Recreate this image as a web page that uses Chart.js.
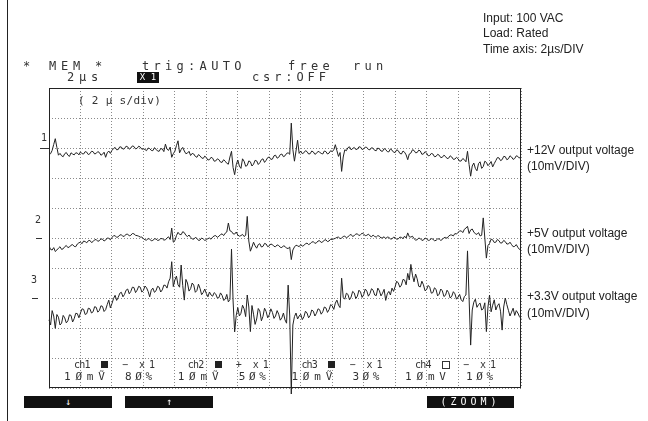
<!DOCTYPE html>
<html><head><meta charset="utf-8">
<script src="https://cdn.jsdelivr.net/npm/chart.js@4.4.1/dist/chart.umd.min.js"></script>
<style>
html,body{margin:0;padding:0;background:#fff;}
#wrap{position:relative;width:648px;height:421px;overflow:hidden;background:#fff;}
canvas{position:absolute;left:0;top:0;}
.t{position:absolute;white-space:pre;line-height:1;}
.s{font-family:"DejaVu Sans Mono",monospace;color:#333;}
.a{font-family:"Liberation Sans",Arial,sans-serif;font-size:12px;color:#222;}
.btn{position:absolute;background:#111;color:#fff;top:396px;height:12px;font-family:"DejaVu Sans Mono",monospace;font-size:10px;line-height:12px;text-align:center;}
.sq{position:absolute;width:7px;height:7px;background:#222;}
.sqo{position:absolute;width:6px;height:6px;border:1px solid #333;}
.vline{position:absolute;left:7px;top:0;width:1px;height:421px;background:#222;}
.mk{position:absolute;height:1px;background:#333;}
</style></head>
<body><div id="wrap">
<canvas id="c" width="648" height="421"></canvas>
<div class="vline"></div>

<div class="t a" style="left:483px;top:12px">Input: 100 VAC</div>
<div class="t a" style="left:483px;top:27px">Load: Rated</div>
<div class="t a" style="left:483px;top:43px">Time axis: 2µs/DIV</div>

<div class="t s" style="left:23px;top:60px;font-size:12px">*</div>
<div class="t s" style="left:49px;top:60px;font-size:12px;letter-spacing:4.8px">MEM</div>
<div class="t s" style="left:95px;top:60px;font-size:12px">*</div>
<div class="t s" style="left:142px;top:60px;font-size:12px;letter-spacing:4.3px">trig:AUTO</div>
<div class="t s" style="left:288px;top:60px;font-size:12px;letter-spacing:4.3px">free</div>
<div class="t s" style="left:353px;top:60px;font-size:12px;letter-spacing:4.3px">run</div>
<div class="t s" style="left:67px;top:71px;font-size:12px;letter-spacing:4.8px">2µs</div>
<div class="t s" style="left:137px;top:72px;width:22px;height:11px;background:#111;color:#fff;font-size:9px;line-height:11px;text-align:center">X 1</div>
<div class="t s" style="left:252px;top:71px;font-size:12px;letter-spacing:3.9px">csr:OFF</div>

<div class="t s" style="left:78px;top:95px;font-size:11px;letter-spacing:0.3px">( 2 µ s/div)</div>

<div class="t s" style="left:41px;top:133px;font-size:10px">1</div>
<div class="mk" style="left:40px;top:148px;width:9px"></div>
<div class="t s" style="left:35px;top:215px;font-size:10px">2</div>
<div class="mk" style="left:36px;top:238px;width:6px"></div>
<div class="t s" style="left:31px;top:275px;font-size:10px">3</div>
<div class="mk" style="left:32px;top:298px;width:6px"></div>

<div class="t a" style="left:527px;top:144px">+12V output voltage</div>
<div class="t a" style="left:527px;top:160px">(10mV/DIV)</div>
<div class="t a" style="left:527px;top:227px">+5V output voltage</div>
<div class="t a" style="left:527px;top:243px">(10mV/DIV)</div>
<div class="t a" style="left:527px;top:290px">+3.3V output voltage</div>
<div class="t a" style="left:527px;top:307px">(10mV/DIV)</div>

<div id="foot"></div>

<div class="btn" style="left:24px;width:88px">↓</div>
<div class="btn" style="left:125px;width:88px">↑</div>
<div class="btn" style="left:427px;width:87px;letter-spacing:4px">(ZOOM)</div>
</div>
<script>
// oscilloscope settings
const sampleStepUs = 0.1;          // 0 .. 30 us, 301 samples (even + mid samples)
const timeMaxUs = 30;
const timeDivUs = 2;
const mVPerDiv = 10;
const channelNames = ['ch1','ch2','ch3','ch4'];
const channelSign = ['−','+','−','−'];
const channelPercent = ['8Ø%','5Ø%','3Ø%','1Ø%'];
const channelVolt = ['1ØmṼ','1ØmṼ','1ØmṼ','1ØmV'];
const channelOffsetDiv = [8, 5, 3];

// ch1: +12V ripple (mV), samples at t = 0, 0.2, ... 30 us
const ch1mV = [
 -2.4,-0.8,3.1,-2.4,-2.6,-1.9,-2.4,-1.6,-2.3,-1.7,
 -1.3,-2.0,-1.4,-1.9,-1.2,-1.8,-1.5,-2.1,-3.1,-1.0,
 -0.8,0.2,-0.5,0.3,-0.2,0.4,0.0,0.5,-0.1,0.3,
 -0.3,-0.9,-0.2,-0.9,-0.4,-1.1,-0.3,1.3,-0.8,-3.1,
 -1.1,2.4,-0.5,-1.0,-1.7,-2.5,-2.0,-3.1,-2.6,-3.5,
 -3.2,-3.9,-3.4,-4.3,-3.9,-4.8,-4.4,-5.4,-1.1,-8.9,
 -4.0,-6.8,-4.4,-5.8,-4.6,-5.4,-4.3,-4.9,-3.6,-4.1,
 -3.0,-3.7,-2.4,-3.1,-2.0,-2.6,-1.6,8.3,-4.4,2.6,
 -1.0,-1.6,-1.2,-1.9,-1.3,-1.8,-1.4,-2.0,-1.2,-1.7,
 -1.2,1.1,-2.8,-7.8,-0.6,0.1,-0.6,0.2,-0.4,0.3,
 -0.3,0.2,-0.6,-0.1,-0.9,-0.3,-1.1,-0.5,-1.3,-0.7,
 -1.5,-0.9,-2.0,-1.4,-3.9,-1.7,-0.8,-1.5,-1.0,-2.0,
 -1.7,-2.5,-2.0,-2.8,-2.4,-3.1,-2.8,-3.4,-3.0,-3.7,
 -3.6,-4.3,-3.9,-1.1,-9.4,-5.0,-7.6,-4.6,-6.2,-4.8,
 -5.3,-6.3,-4.2,-3.3,-3.9,-2.9,-3.6,-3.0,-3.5,-2.8,
 -2.6
];
// ch1 mid samples at t = 0.1, 0.3, ... 29.9 us
const ch1MidmV = [
 -1.9,1.2,0.2,-1.8,-2.9,-1.5,-2.8,-2.0,-1.6,-2.3,
 -1.9,-1.2,-2.2,-1.1,-2.0,-1.2,-2.4,-1.4,-1.6,-1.8,
 -0.2,-0.6,0.4,-0.4,0.6,-0.4,0.7,-0.3,0.6,-0.4,
 -0.5,0.0,-0.8,0.1,-1.0,-0.2,-1.2,-0.4,0.3,-1.9,
 0.8,-1.6,0.2,-1.9,-1.1,-1.8,-2.8,-2.2,-3.3,-2.7,
 -4.0,-3.1,-4.4,-3.6,-4.7,-3.9,-5.1,-3.0,-6.5,-5.6,
 -6.0,-3.6,-6.1,-4.3,-6.0,-4.1,-5.5,-3.9,-4.8,-3.2,
 -3.8,-2.6,-3.4,-2.2,-2.9,-1.8,-2.1,-0.5,-1.0,-1.8,
 -1.9,-0.9,-2.0,-1.0,-2.1,-1.1,-1.8,-1.0,-2.0,-0.9,
 -0.6,-0.9,-1.5,-3.0,-0.9,0.4,-0.2,-0.5,0.4,-0.5,
 0.3,-0.5,0.1,-0.8,0.0,-1.0,-0.2,-1.2,-0.3,-1.4,
 -0.6,-1.8,-1.0,-2.3,-2.0,-0.6,-1.6,-0.7,-2.1,-1.2,
 -2.6,-1.8,-2.9,-2.1,-3.2,-2.4,-3.5,-2.6,-3.8,-3.1,
 -4.4,-3.5,-4.6,-5.5,-6.0,-6.8,-5.2,-6.8,-4.4,-5.9,
 -4.5,-5.2,-3.2,-4.2,-2.8,-3.9,-2.6,-3.8,-2.6,-3.4
];
// ch2: +5V ripple (mV)
const ch2mV = [
 -2.6,-4.0,-4.5,-3.4,-3.8,-2.9,-3.2,-2.4,-2.8,-2.0,
 -1.4,-1.0,-1.6,-0.8,-1.2,-0.5,-0.9,-0.4,-0.7,-0.1,
 0.2,0.8,0.4,1.1,0.7,1.3,0.9,1.4,0.8,0.3,
 -0.2,-0.7,-0.4,-0.8,-0.3,-0.7,-0.2,-0.6,0.4,3.3,
 -0.9,1.9,1.1,1.8,0.5,0.2,-0.4,-0.1,-0.7,-0.3,
 -0.6,0.0,0.3,0.8,0.6,1.4,1.6,5.0,2.2,1.3,
 1.0,0.8,0.5,7.2,-4.4,-1.4,-3.4,-1.9,-2.8,-2.0,
 -2.6,-2.2,-2.9,-2.5,-3.2,-2.8,-3.5,-7.2,-3.0,-2.6,
 -2.2,-2.5,-1.7,-1.9,-1.2,-1.6,-0.9,-1.3,-0.6,-1.0,
 -0.5,-0.1,0.3,0.0,0.6,0.4,1.2,0.8,1.4,1.1,
 1.3,0.9,0.7,1.0,0.3,0.6,0.1,-0.2,0.2,-0.3,
 0.1,-0.3,0.2,0.6,1.7,0.3,-0.2,-0.6,-0.2,-0.7,
 -0.3,-0.7,-0.4,-0.8,-0.3,-0.5,0.2,0.6,1.0,1.5,
 1.9,2.4,2.9,3.9,2.7,2.0,1.2,0.7,6.7,-6.7,
 -1.8,-0.6,-1.4,-0.9,-1.6,-1.2,-2.0,-2.2,-2.8,-3.1,
 -3.6
];
const ch2MidmV = [
 -3.8,-3.2,-4.0,-2.9,-3.6,-2.5,-3.0,-2.2,-2.9,-1.6,
 -1.9,-1.2,-0.9,-1.5,-0.6,-1.1,-0.3,-1.0,0.0,-0.6,
 0.7,0.2,1.0,0.5,1.2,0.7,1.5,0.9,0.6,0.3,
 -0.6,-0.2,-0.9,-0.3,-0.8,-0.2,-0.7,0.0,-0.5,-1.4,
 0.8,1.2,2.1,0.9,1.0,-0.3,0.2,-0.8,0.0,-0.8,
 -0.2,-0.4,0.7,0.2,1.1,0.8,2.0,2.4,1.4,2.0,
 0.6,1.2,0.9,-1.0,-3.0,-2.6,-2.2,-3.0,-1.8,-2.9,
 -2.0,-2.8,-2.3,-3.1,-2.6,-3.4,-3.0,-4.0,-2.4,-2.9,
 -2.7,-1.9,-2.2,-1.4,-1.8,-1.0,-1.5,-0.7,-1.2,-0.4,
 -0.3,0.2,-0.2,0.5,0.1,0.9,0.5,1.3,0.8,1.6,
 0.8,1.3,0.4,0.5,0.8,0.0,0.4,0.3,-0.3,0.3,
 -0.4,0.3,-0.2,0.0,0.4,0.6,-0.7,0.0,-0.8,0.0,
 -0.8,-0.2,-0.9,-0.3,-0.8,0.1,-0.1,1.0,0.7,1.3,
 2.3,1.8,3.3,1.5,3.0,1.4,1.8,0.9,0.0,-2.5,
 -0.4,-1.5,-0.5,-1.7,-0.8,-2.0,-1.4,-2.9,-2.2,-3.8
];
// ch3: +3.3V ripple (mV)
const ch3mV = [
 -7.3,-4.2,-10.1,-6.4,-8.4,-6.6,-7.6,-5.8,-6.9,-5.2,
 -5.0,-3.8,-5.2,-3.6,-4.6,-3.1,-4.2,-2.8,-3.9,-0.7,
 -1.9,0.9,0.2,1.9,1.2,3.0,2.2,3.5,2.6,3.6,
 2.5,3.4,0.4,3.3,2.4,3.6,2.7,4.2,5.4,12.1,
 6.0,4.4,11.0,-0.7,5.0,3.1,4.3,2.5,3.2,1.8,
 1.5,2.0,0.6,1.3,0.1,0.9,-0.4,-1.3,16.3,-11.3,
 -3.2,-5.1,-3.6,1.0,-11.2,-5.4,-7.0,-4.3,-6.1,-4.5,
 -5.6,-4.8,-6.0,-5.4,-6.6,-7.3,4.3,-32.0,-6.2,-7.0,
 -5.4,-6.3,-5.0,-5.8,-4.4,-5.1,-3.9,-4.6,-3.3,-3.9,
 -2.6,-1.7,-2.4,6.6,-0.4,1.2,0.3,1.7,0.6,2.0,
 1.1,2.3,1.5,2.6,0.8,2.4,1.6,-0.8,2.2,3.3,
 3.8,5.0,4.3,6.0,8.2,11.2,5.4,6.4,3.7,4.4,
 2.8,3.6,1.8,2.9,1.3,2.4,0.9,1.8,0.6,1.4,
 0.3,-0.6,0.5,15.7,-15.7,-1.4,-3.1,-1.7,-3.6,-11.2,
 1.0,-2.4,-4.0,-1.9,-10.7,0.0,-4.1,-4.7,-5.8,-5.0,
 -6.8
];
const ch3MidmV = [
 -9.0,-6.0,-5.5,-9.0,-5.8,-8.3,-5.6,-8.0,-5.1,-6.6,
 -3.6,-5.5,-3.4,-5.0,-2.9,-4.7,-2.6,-4.5,-2.2,-3.3,
 -0.2,-0.8,1.6,0.4,2.6,1.4,3.6,1.8,3.9,2.0,
 4.0,2.2,2.6,1.9,3.9,2.0,4.3,3.3,6.6,3.8,
 7.3,3.6,4.2,6.2,2.3,5.0,1.9,4.6,1.1,3.0,
 0.4,1.0,1.8,0.0,1.7,-0.8,1.2,-0.5,-1.0,-5.8,
 -6.0,-2.4,-6.2,-3.0,-2.5,-8.8,-3.5,-7.6,-3.4,-6.6,
 -3.6,-6.8,-4.2,-7.4,-5.0,-8.4,-6.0,-9.0,-5.0,-6.0,
 -7.2,-4.4,-6.6,-4.0,-6.0,-3.6,-5.4,-3.0,-4.8,-2.2,
 -3.8,-0.7,-3.2,0.2,1.6,-0.6,2.2,-0.2,2.6,0.2,
 3.0,0.6,3.1,1.0,3.3,0.7,2.9,1.4,1.0,2.2,
 5.6,3.6,6.2,4.4,6.0,7.6,8.0,3.9,5.6,2.4,
 4.2,1.6,3.4,0.7,3.0,0.5,2.6,0.0,2.1,-0.4,
 1.2,-1.2,1.0,0.0,-4.0,-0.4,-2.2,-4.0,-1.6,-3.0,
 -4.6,-0.6,-2.6,-4.4,-3.0,-2.2,-6.0,-3.4,-4.2,-6.2
];

// footer channel info (real text)
(function(){
  const foot = document.getElementById('foot');
  const step = 113.7;
  let html = '';
  for (let c = 0; c < 4; c++) {
    const o = c * step;
    html += `<div class="t s" style="left:${74+o}px;top:360px;font-size:10px;letter-spacing:-0.8px">${channelNames[c]}</div>`;
    html += `<div class="${c===3?'sqo':'sq'}" style="left:${101+o}px;top:361px"></div>`;
    html += `<div class="t s" style="left:${122+o}px;top:360px;font-size:10px">${channelSign[c]}</div>`;
    html += `<div class="t s" style="left:${139+o}px;top:360px;font-size:10px;letter-spacing:4px">x1</div>`;
    html += `<div class="t s" style="left:${64+o}px;top:371px;font-size:11px;letter-spacing:4.8px">${channelVolt[c]}</div>`;
    html += `<div class="t s" style="left:${125+o}px;top:371px;font-size:11px;letter-spacing:3.6px">${channelPercent[c]}</div>`;
  }
  foot.innerHTML = html;
})();

// merge the main samples and the mid samples into one time-ordered trace
function toPoints(values, mids, offsetDiv) {
  const pts = [];
  for (let k = 0; k < values.length; k++) {
    pts.push({ x: 2 * k * sampleStepUs, y: offsetDiv + values[k] / mVPerDiv });
    if (k < mids.length) pts.push({ x: (2 * k + 1) * sampleStepUs, y: offsetDiv + mids[k] / mVPerDiv });
  }
  return pts;
}

const framePlugin = {
  id: 'frame',
  afterDatasetsDraw(chart) {
    const { ctx, chartArea: a } = chart;
    ctx.save();
    ctx.strokeStyle = '#222';
    ctx.lineWidth = 1;
    ctx.strokeRect(Math.round(a.left) + 0.5, Math.round(a.top) + 0.5,
                   Math.round(a.right - a.left) - 1, Math.round(a.bottom - a.top) - 1);
    ctx.restore();
  }
};

const lineStyle = { borderColor: '#222', borderWidth: 1, pointRadius: 0, tension: 0, fill: false };

new Chart(document.getElementById('c'), {
  type: 'line',
  data: {
    datasets: [
      Object.assign({ label: '+12V', data: toPoints(ch1mV, ch1MidmV, channelOffsetDiv[0]) }, lineStyle),
      Object.assign({ label: '+5V', data: toPoints(ch2mV, ch2MidmV, channelOffsetDiv[1]) }, lineStyle),
      Object.assign({ label: '+3.3V', data: toPoints(ch3mV, ch3MidmV, channelOffsetDiv[2]), clip: false }, lineStyle)
    ]
  },
  options: {
    responsive: false,
    animation: false,
    events: [],
    layout: { padding: { left: 49, top: 88, right: 127, bottom: 33 } },
    plugins: { legend: { display: false }, tooltip: { enabled: false } },
    scales: {
      x: {
        type: 'linear', min: 0, max: timeMaxUs,
        ticks: { display: false, stepSize: timeDivUs },
        grid: { color: '#8a8a8a', lineWidth: 1, drawTicks: false },
        border: { display: false, dash: [1, 2] }
      },
      y: {
        type: 'linear', min: 0, max: 10,
        ticks: { display: false, stepSize: 1 },
        grid: { color: '#8a8a8a', lineWidth: 1, drawTicks: false },
        border: { display: false, dash: [1, 2] }
      }
    }
  },
  plugins: [framePlugin]
});
</script>
</body></html>
